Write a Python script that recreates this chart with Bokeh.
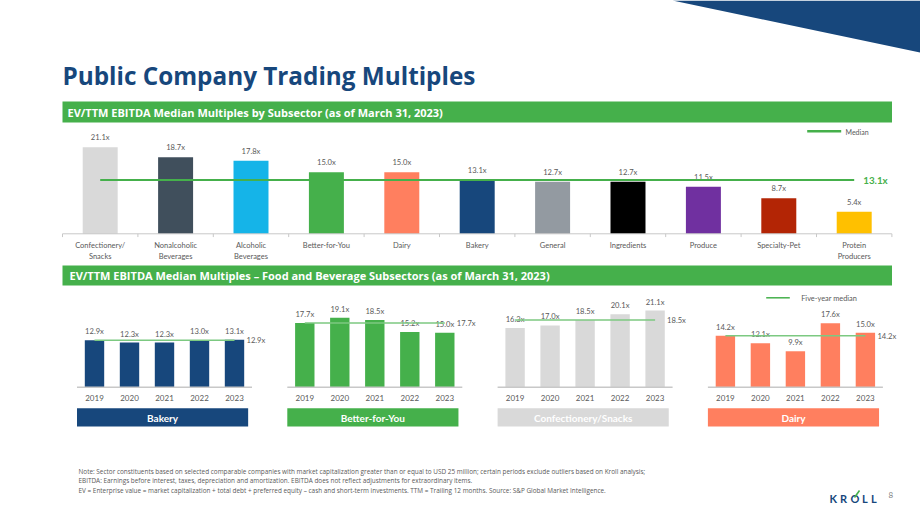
from bokeh.plotting import figure
from bokeh.models import Range1d
from bokeh.core.properties import value
from bokeh.embed import file_html
from bokeh.resources import INLINE

# ---- data -------------------------------------------------------------
subsectors = ["Confectionery/\nSnacks", "Nonalcoholic\nBeverages", "Alcoholic\nBeverages",
              "Better-for-You", "Dairy", "Bakery", "General", "Ingredients", "Produce",
              "Specialty-Pet", "Protein\nProducers"]
subsector_multiples = [21.1, 18.7, 17.8, 15.0, 15.0, 13.1, 12.7, 12.7, 11.5, 8.7, 5.4]
overall_median = 13.1

years = ["2019", "2020", "2021", "2022", "2023"]
panel_names = ["Bakery", "Better-for-You", "Confectionery/Snacks", "Dairy"]
bakery = [12.9, 12.3, 12.3, 13.0, 13.1]
better_for_you = [17.7, 19.1, 18.5, 15.2, 15.0]
confectionery_snacks = [16.3, 17.0, 18.5, 20.1, 21.1]
dairy = [14.2, 12.1, 9.9, 17.6, 15.0]
panel_series = [bakery, better_for_you, confectionery_snacks, dairy]
five_year_medians = [12.9, 17.7, 18.5, 14.2]

# ---- styling ----------------------------------------------------------
subsector_colors = ["#d9d9d9", "#404f5c", "#15b4e8", "#45b04b", "#ff7f5f", "#17477c",
                    "#939aa1", "#000000", "#7030a0", "#b32505", "#ffc000"]
panel_colors = ["#17477c", "#45b04b", "#d9d9d9", "#ff7f5f"]
NAVY = "#17477c"
GREEN = "#45b04b"
LIGHT_GREEN = "#7cc981"
GREY_TEXT = "#595959"
AXIS_GREY = "#c8c8c8"
FONT = value("Lato")
HEAD_FONT = value("Open Sans")

W, H = 920, 517


def x_map(origin_px, px_per_unit):
    return Range1d(start=-origin_px / px_per_unit, end=(W - origin_px) / px_per_unit)


def y_map(base_px, px_per_unit):
    return Range1d(start=(base_px - H) / px_per_unit, end=base_px / px_per_unit)


# page canvas in pixel units (y grows downward)
p = figure(width=W, height=H, x_range=Range1d(0, W), y_range=Range1d(H, 0),
           output_backend="svg", toolbar_location=None,
           x_axis_location=None, y_axis_location=None,
           min_border=0, outline_line_color=None, title=None)
p.xgrid.visible = False
p.ygrid.visible = False
p.background_fill_color = "white"
p.border_fill_color = "white"

# scales for the charts
p.extra_x_ranges = {"sub_x": x_map(99.7, 75.4)}
p.extra_y_ranges = {"sub_y": y_map(233.3, 4.1), "yr_y": y_map(386.7, 3.63)}
for k in range(len(panel_names)):
    p.extra_x_ranges[f"yr_x{k}"] = x_map(94.0 + 210.3 * k, 35.0)

# ---- header -----------------------------------------------------------
p.patch([672, 920, 920], [0, 0, 52], fill_color=NAVY, line_color=None)
p.text(x=[62], y=[75], text=["Public Company Trading Multiples"], text_font=HEAD_FONT,
       text_font_style="bold", text_font_size=value("24.3px"), text_color=NAVY,
       text_baseline="alphabetic", text_align="left")

# section banners
p.quad(left=[62, 62], right=[891.5, 891.5], top=[101, 265], bottom=[122, 285],
       fill_color=GREEN, line_color=None)
p.text(x=[67, 69], y=[111.5, 275],
       text=["EV/TTM EBITDA Median Multiples by Subsector (as of March 31, 2023)",
             "EV/TTM EBITDA Median Multiples \u2013 Food and Beverage Subsectors (as of March 31, 2023)"],
       text_font=HEAD_FONT, text_font_style="bold", text_font_size=value("11px"),
       text_color="white", text_baseline="middle", text_align="left")

# ---- subsector chart --------------------------------------------------
idx = list(range(len(subsectors)))
p.vbar(x=idx, top=subsector_multiples, bottom=0, width=0.464, fill_color=subsector_colors,
       line_color=None, x_range_name="sub_x", y_range_name="sub_y")
# axis line + ticks
p.line(x=[-0.5, len(idx) - 0.5], y=[0, 0], line_color=AXIS_GREY, line_width=1,
       x_range_name="sub_x", y_range_name="sub_y")
ticks = [i - 0.5 for i in range(len(idx) + 1)]
p.segment(x0=ticks, x1=ticks, y0=[0] * len(ticks), y1=[-0.8] * len(ticks),
          line_color=AXIS_GREY, line_width=1, x_range_name="sub_x", y_range_name="sub_y")
p.text(x=idx, y=[0] * len(idx), text=subsectors, text_font=FONT,
       text_font_size=value("7.5px"), text_color=GREY_TEXT, text_align="center",
       text_baseline="top", y_offset=7, text_line_height=1.3,
       x_range_name="sub_x", y_range_name="sub_y")
# value labels
p.text(x=idx, y=subsector_multiples, text=[f"{v:.1f}x" for v in subsector_multiples],
       text_font=FONT, text_font_size=value("7.6px"), text_color=GREY_TEXT,
       text_align="center", text_baseline="middle", y_offset=-10,
       x_range_name="sub_x", y_range_name="sub_y")
# median line
p.line(x=[0, len(idx) - 1], y=[overall_median, overall_median], line_color=GREEN,
       line_width=2, x_range_name="sub_x", y_range_name="sub_y")
p.text(x=[len(idx) - 1], y=[overall_median], text=[f"{overall_median:.1f}x"], text_font=FONT,
       text_font_style="bold", text_font_size=value("9.8px"), text_color=GREEN,
       text_align="left", text_baseline="middle", x_offset=9,
       x_range_name="sub_x", y_range_name="sub_y")
# legend
p.line(x=[806.7, 840.7], y=[130.7, 130.7], line_color=GREEN, line_width=2.5)
p.text(x=[845], y=[131], text=["Median"], text_font=FONT, text_font_size=value("7px"),
       text_color=GREY_TEXT, text_baseline="middle", text_align="left")

# ---- five-year panels -------------------------------------------------
yi = list(range(len(years)))
for k, (name, series, med, col) in enumerate(zip(panel_names, panel_series,
                                                 five_year_medians, panel_colors)):
    xr = f"yr_x{k}"
    p.vbar(x=yi, top=series, bottom=0, width=0.554, fill_color=col, line_color=None,
           x_range_name=xr, y_range_name="yr_y")
    p.line(x=[-0.5, len(yi) - 0.5], y=[0, 0], line_color=AXIS_GREY, line_width=1.5,
           x_range_name=xr, y_range_name="yr_y")
    p.text(x=yi, y=[0] * len(yi), text=years, text_font=FONT, text_font_size=value("8px"),
           text_color=GREY_TEXT, text_align="center", text_baseline="middle", y_offset=11,
           x_range_name=xr, y_range_name="yr_y")
    p.text(x=yi, y=series, text=[f"{v:.1f}x" for v in series], text_font=FONT,
           text_font_size=value("7.6px"), text_color=GREY_TEXT, text_align="center",
           text_baseline="middle", y_offset=-9, x_range_name=xr, y_range_name="yr_y")
    p.line(x=[0, len(yi) - 1], y=[med, med], line_color=LIGHT_GREEN, line_width=1.5,
           x_range_name=xr, y_range_name="yr_y")
    p.text(x=[len(yi) - 1], y=[med], text=[f"{med:.1f}x"], text_font=FONT,
           text_font_size=value("7.6px"), text_color=GREY_TEXT, text_align="left",
           text_baseline="middle", x_offset=12, x_range_name=xr, y_range_name="yr_y")
    # name tag under the panel
    p.quad(left=[-0.5], right=[4.39], top=[407.7], bottom=[426], fill_color=col,
           line_color=None, x_range_name=xr)
    p.text(x=[1.945], y=[417], text=[name], text_font=FONT, text_font_style="bold",
           text_font_size=value("10px"), text_color="white", text_align="center",
           text_baseline="middle", x_range_name=xr)

p.line(x=[765.7, 789.3], y=[297.3, 297.3], line_color=GREEN, line_width=1.5)
p.text(x=[800.7], y=[297.5], text=["Five-year median"], text_font=FONT,
       text_font_size=value("7.4px"), text_color=GREY_TEXT, text_baseline="middle",
       text_align="left")

# ---- footnotes and footer ---------------------------------------------
notes = [
    "Note: Sector constituents based on selected comparable companies with market capitalization greater than or equal to USD 25 million; certain periods exclude outliers based on Kroll analysis;",
    "EBITDA: Earnings before interest, taxes, depreciation and amortization. EBITDA does not reflect adjustments for extraordinary items.",
    "EV = Enterprise value = market capitalization + total debt + preferred equity \u2013 cash and short-term investments. TTM = Trailing 12 months. Source: S&P Global Market Intelligence.",
]
p.text(x=[78] * 3, y=[470.5, 480, 489.5], text=notes, text_font=value("Open Sans"),
       text_font_size=value("6.4px"), text_color=GREY_TEXT, text_baseline="middle",
       text_align="left")

logo_letters = ["K", "R", "O", "L", "L"]
p.text(x=[829, 839.5, 850, 861.5, 870.5], y=[498] * 5, text=logo_letters, text_font=FONT,
       text_font_style="bold", text_font_size=value("11px"), text_color=NAVY,
       text_baseline="alphabetic", text_align="left")
p.segment(x0=[854], y0=[497], x1=[859], y1=[490], line_color=GREEN, line_width=1.6)
p.text(x=[888], y=[494], text=["8"], text_font=FONT, text_font_size=value("8px"),
       text_color="#7f7f7f", text_baseline="middle", text_align="left")

open("out.html", "w").write(file_html(p, INLINE))
